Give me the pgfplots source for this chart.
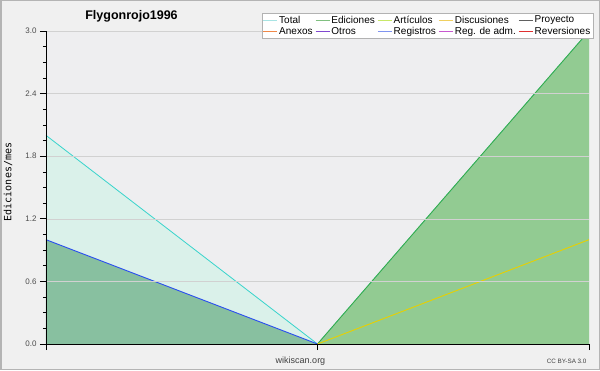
\documentclass[border=0pt]{standalone}
\usepackage{pgfplots}
\pgfplotsset{compat=1.18}
\usepackage{fontspec}
\setmainfont{Liberation Sans}
\newfontfamily\monofont{DejaVu Sans Mono}
\definecolor{outerbg}{HTML}{F0F0F0}
\definecolor{plotbg}{HTML}{EEEEF0}
\definecolor{bordergray}{HTML}{B4B4B4}
\definecolor{cTotal}{HTML}{A8E4E4}
\definecolor{cEdic}{HTML}{80C080}
\definecolor{cArt}{HTML}{C8E868}
\definecolor{cDisc}{HTML}{F0D060}
\definecolor{cProy}{HTML}{606060}
\definecolor{cAnex}{HTML}{F08848}
\definecolor{cOtros}{HTML}{8048D0}
\definecolor{cReg}{HTML}{8094F0}
\definecolor{cRegadm}{HTML}{C858D0}
\definecolor{cRev}{HTML}{E03030}
\definecolor{lineCyan}{HTML}{38D4CC}
\definecolor{lineGreen}{HTML}{40A840}
\definecolor{lineBlue}{HTML}{2A4EF0}
\definecolor{lineYellow}{HTML}{E8D000}
\definecolor{fillCyan}{HTML}{DAF1EA}
\definecolor{fillLeft}{HTML}{88C0A0}
\definecolor{fillRight}{HTML}{92CB92}
\begin{document}
\begin{tikzpicture}[x=1pt,y=1pt]
\fill[outerbg] (0,0) rectangle (600,370);
\draw[bordergray, line width=1.5pt] (0.75,0.75) rectangle (599.25,369.25);
\begin{axis}[
  at={(46pt,26pt)}, anchor=south west,
  scale only axis, width=543pt, height=313pt,
  xmin=0, xmax=2, ymin=0, ymax=3,
  axis lines*=left,
  axis line style={black, line width=0.8pt},
  axis background/.style={fill=plotbg},
  axis on top,
  xtick={0,1,2}, xticklabels={},
  ytick={0,0.6,1.2,1.8,2.4,3.0},
  minor y tick num=3,
  tick align=outside,
  major tick length=6pt, minor tick length=3pt,
  tick style={black, line width=0.7pt},
  ymajorgrids, major grid style={color=black!18, line width=0.6pt},
  yticklabel style={font=\fontsize{8}{9}\selectfont, text=black!70,
    /pgf/number format/.cd, fixed, fixed zerofill, precision=1, assume math mode=true},
  legend columns=5,
  legend cell align=left,
  legend style={at={(1.00737,1.0575)}, anchor=north east,
    draw=black!30, fill=white, font=\fontsize{10}{10}\selectfont,
    inner xsep=1pt, inner ysep=1.5pt, row sep=0.5pt,
    /tikz/every even column/.append style={column sep=1pt},
    nodes={inner xsep=1.5pt, inner ysep=1pt}},
  legend image code/.code={\draw[#1] (0pt,0pt) -- (14pt,0pt);},
]
% fills
\addplot[draw=none, fill=fillCyan, forget plot] coordinates {(0,2) (1,0) (2,3)} \closedcycle;
\addplot[draw=none, fill=fillLeft, forget plot] coordinates {(0,1) (1,0)} \closedcycle;
\addplot[draw=none, fill=fillRight, forget plot] coordinates {(1,0) (2,3)} \closedcycle;
% lines
\addplot[lineCyan, line width=0.8pt, forget plot] coordinates {(0,2) (1,0) (2,3)};
\addplot[lineGreen, line width=0.8pt, forget plot] coordinates {(1,0) (2,3)};
\addplot[lineBlue, line width=0.9pt, forget plot] coordinates {(0,1) (1,0)};
\addplot[lineYellow, line width=0.9pt, forget plot] coordinates {(1,0) (2,1)};
% legend
\addlegendimage{draw=cTotal, line width=0.9pt}\addlegendentry{Total}
\addlegendimage{draw=cEdic, line width=0.9pt}\addlegendentry{Ediciones}
\addlegendimage{draw=cArt, line width=0.9pt}\addlegendentry{Artículos}
\addlegendimage{draw=cDisc, line width=0.9pt}\addlegendentry{Discusiones}
\addlegendimage{draw=cProy, line width=0.9pt}\addlegendentry{Proyecto}
\addlegendimage{draw=cAnex, line width=0.9pt}\addlegendentry{Anexos}
\addlegendimage{draw=cOtros, line width=0.9pt}\addlegendentry{Otros}
\addlegendimage{draw=cReg, line width=0.9pt}\addlegendentry{Registros}
\addlegendimage{draw=cRegadm, line width=0.9pt}\addlegendentry{Reg. de adm.}
\addlegendimage{draw=cRev, line width=0.9pt}\addlegendentry{Reversiones}
\end{axis}
\node[font=\bfseries\fontsize{12.5}{13}\selectfont] at (131.5,354) {Flygonrojo1996};
\node[rotate=90, font=\monofont\fontsize{10}{10}\selectfont] at (8,188) {Ediciones/mes};
\node[font=\fontsize{9}{9}\selectfont, text=black!75] at (300.5,9) {wikiscan.org};
\node[font=\fontsize{6.3}{7}\selectfont, text=black!75, anchor=east] at (590,9) {CC BY-SA 3.0};
\end{tikzpicture}
\end{document}
